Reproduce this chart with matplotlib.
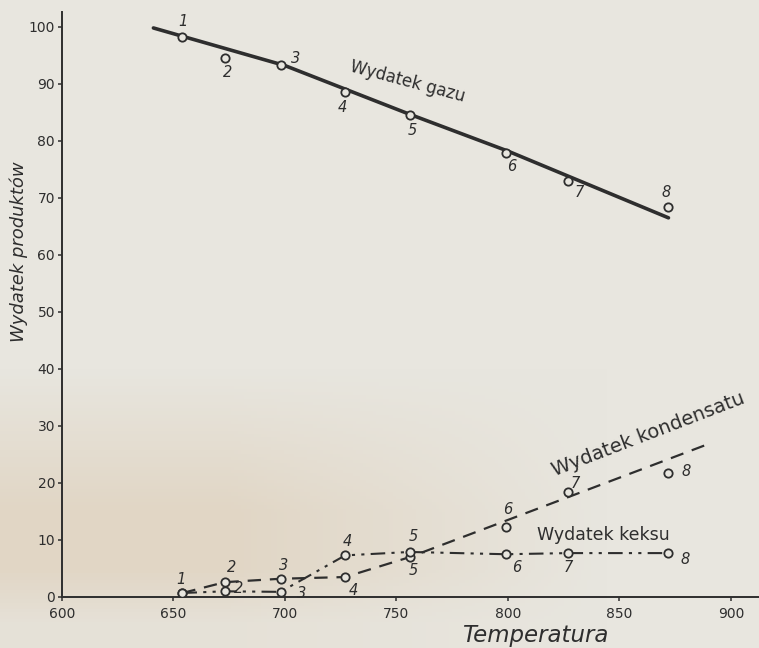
import numpy as np
import matplotlib
matplotlib.use("Agg")
from matplotlib import pyplot as plt

# temperatures of the 8 runs (deg C)
temps = [654, 673, 698, 727, 756, 799, 827, 872]
run_no = ["1", "2", "3", "4", "5", "6", "7", "8"]

# measured yields (%)
gas_pts = [98.2, 94.6, 93.3, 88.6, 84.6, 77.9, 73.0, 68.4]
cond_pts = [0.7, 2.6, 3.2, 3.5, 7.0, 12.3, 18.4, 21.8]
coke_pts = [0.7, 1.0, 0.9, 7.3, 7.9, 7.5, 7.7, 7.7]

# hand drawn curves through the points
gas_curve_t = [641, 700, 755, 800, 872]
gas_curve_y = [99.8, 93.2, 84.8, 78.2, 66.5]
cond_curve_t = [654, 673, 698, 727, 756, 889]
cond_curve_y = [0.7, 2.6, 3.2, 3.5, 7.0, 26.7]

x_ticks = [600, 650, 700, 750, 800, 850, 900]
y_ticks = [0, 10, 20, 30, 40, 50, 60, 70, 80, 90, 100]

# label offsets in pixels (run numbers)
gas_off = [(1, 16), (3, -15), (15, 7), (-3, -16), (2, -16), (6, -14), (11, -12), (-2, 14)]
cond_off = [(-1, 14), (7, 15), (3, 13), (8, -13), (3, -13), (2, 17), (7, 9), (18, 1)]
coke_off = [None, (14, 3), (21, -2), (2, 14), (3, 15), (11, -13), (0, -14), (17, -6)]

ink = "#2e2e2e"
paper = "#e8e6df"

fig = plt.figure(figsize=(7.59, 6.48), dpi=100)
fig.patch.set_facecolor(paper)

# paper with a bit of shading in the lower left corner
bg = fig.add_axes([0, 0, 1, 1], zorder=-5)
yy, xx = np.mgrid[0:1:200j, 0:1:230j]
w = np.clip((yy - 0.57) / 0.22, 0, 1) * np.clip((0.8 - xx) / 0.5, 0, 1)
w = w * np.clip((1.0 - yy) / 0.12, 0.3, 1)
base = np.array([232, 230, 223]) / 255.0
shade = np.array([225, 214, 197]) / 255.0
img = base[None, None, :] * (1 - w[..., None]) + shade[None, None, :] * w[..., None]
bg.imshow(img, aspect="auto", extent=[0, 1, 0, 1], origin="upper")
bg.axis("off")

ax = fig.add_axes([62 / 759, 51 / 648, 697 / 759, 585 / 648])
ax.patch.set_alpha(0)
ax.set_xlim(600, 912.6)
ax.set_ylim(0, 102.6)

ax.plot(gas_curve_t, gas_curve_y, color=ink, lw=2.6, solid_capstyle="round")
ax.plot(cond_curve_t, cond_curve_y, color=ink, lw=1.6, linestyle=(0, (6, 4)))
ax.plot(temps, coke_pts, color=ink, lw=1.5, linestyle=(0, (7, 3, 1.5, 3, 1.5, 3)))

for ys in (gas_pts, cond_pts, coke_pts):
    ax.plot(temps, ys, linestyle="none", marker="o", ms=6, mfc=paper,
            mec=ink, mew=1.3, zorder=5)

def number_labels(ys, offs):
    for t, y, n, off in zip(temps, ys, run_no, offs):
        if off is None:
            continue
        ax.annotate(n, (t, y), xytext=off, textcoords="offset pixels",
                    ha="center", va="center", fontsize=10.5, style="italic",
                    color=ink)

number_labels(gas_pts, gas_off)
number_labels(cond_pts, cond_off)
number_labels(coke_pts, coke_off)

ax.text(755, 90.4, "Wydatek gazu", rotation=-15, ha="center", va="center",
        fontsize=12, color=ink, rotation_mode="anchor")
ax.text(863, 28.6, "Wydatek kondensatu", rotation=21, ha="center", va="center",
        fontsize=14, color=ink, rotation_mode="anchor")
ax.text(843, 10.8, "Wydatek keksu", ha="center", va="center",
        fontsize=12.5, color=ink)

ax.spines["top"].set_visible(False)
ax.spines["right"].set_visible(False)
for s in ("left", "bottom"):
    ax.spines[s].set_color(ink)
    ax.spines[s].set_linewidth(1.4)

ax.set_xticks(x_ticks)
ax.set_xticklabels([str(v) for v in x_ticks])
ax.set_yticks(y_ticks)
ax.set_yticklabels([str(v) for v in y_ticks])
ax.tick_params(axis="both", colors=ink, labelsize=10, length=3, width=1.1)
ax.tick_params(axis="x", pad=4)
ax.tick_params(axis="y", pad=2)

ax.text(-0.062, 0.59, "Wydatek produktów", transform=ax.transAxes, rotation=90,
        ha="center", va="center", fontsize=13, style="italic", color=ink)
ax.text(0.679, -0.077, "Temperatura", transform=ax.transAxes, ha="center",
        va="baseline", fontsize=16.5, style="italic", color=ink)

fig.savefig("out.png", dpi=100, facecolor=fig.get_facecolor())
